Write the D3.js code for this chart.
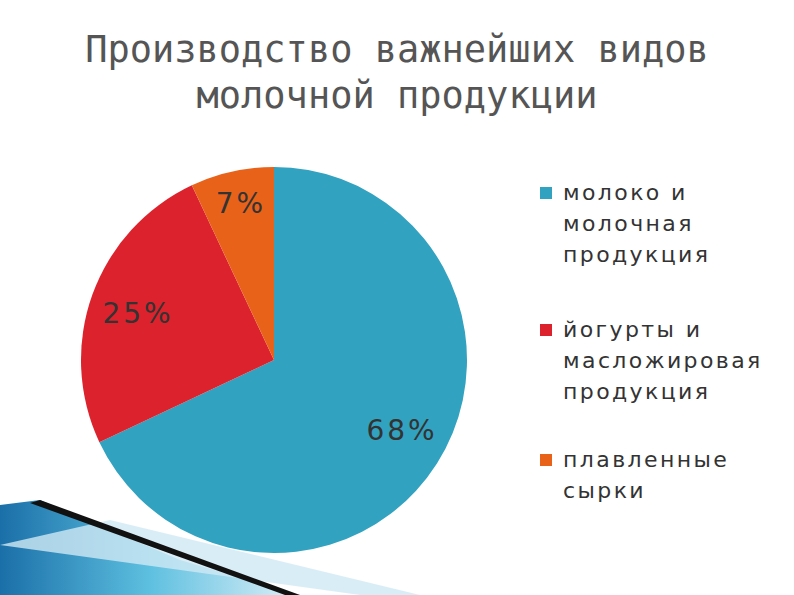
<!DOCTYPE html><html><head><meta charset="utf-8"><script src="https://cdn.jsdelivr.net/npm/d3@7"></script>
<style>body{margin:0;background:#fff}</style></head><body><svg id="c" width="794" height="595"></svg>
<script>
const categories=["молоко и|молочная|продукция","йогурты и|масложировая|продукция","плавленные|сырки"];
const values=[68,25,7];
const labels=["68%","25%","7%"];
const colors=["#31a2c0","#dc222c","#e9621a"];
const svg=d3.select("#c");
const defs=svg.append("defs");
const g1=defs.append("linearGradient").attr("id","gr").attr("x1","0").attr("x2","1");
g1.append("stop").attr("offset","0").attr("stop-color","#1a6fa8");
g1.append("stop").attr("offset","0.5").attr("stop-color","#5ec0e0");
g1.append("stop").attr("offset","1").attr("stop-color","#dff0f8");
svg.append("path").attr("d","M0,505 L40,500 L180,560 L300,595 L0,595Z").attr("fill","url(#gr)");
svg.append("path").attr("d","M0,545 L110,520 L420,595 L360,595Z").attr("fill","#cfe9f4").attr("opacity",0.8);
svg.append("path").attr("d","M40,500 L300,595 L285,595 L30,503Z").attr("fill","#111");
svg.append("text").attr("text-anchor","middle").attr("fill","#555").attr("font-family","DejaVu Sans Mono").attr("font-size",37)
 .selectAll("tspan").data(["Производство важнейших видов","молочной продукции"]).join("tspan")
 .attr("x",397).attr("y",(d,i)=>62+i*46).text(d=>d);
const cx=274,cy=360,r=193;
const pie=d3.pie().sort(null)(values);
const arc=d3.arc().innerRadius(0).outerRadius(r);
const g=svg.append("g").attr("transform",`translate(${cx},${cy})`);
g.selectAll("path").data(pie).join("path").attr("d",arc).attr("fill",(d,i)=>colors[i]);
const lp=[[128,80],[-136,-37],[-33,-147]];
g.selectAll("text").data(pie).join("text").attr("x",(d,i)=>lp[i][0]).attr("y",(d,i)=>lp[i][1])
 .attr("text-anchor","middle").attr("font-family","DejaVu Sans").attr("font-size",28).attr("letter-spacing",3).attr("fill","#333").text((d,i)=>labels[i]);
const ly=[200,337,467];
categories.forEach((c,i)=>{
 svg.append("rect").attr("x",540).attr("y",ly[i]-13).attr("width",12).attr("height",12).attr("fill",colors[i]);
 svg.append("text").attr("font-family","DejaVu Sans").attr("font-size",22).attr("letter-spacing",2.4).attr("fill","#333")
  .selectAll("tspan").data(c.split("|")).join("tspan").attr("x",563).attr("y",(d,j)=>ly[i]+j*31).text(d=>d);
});
</script></body></html>
